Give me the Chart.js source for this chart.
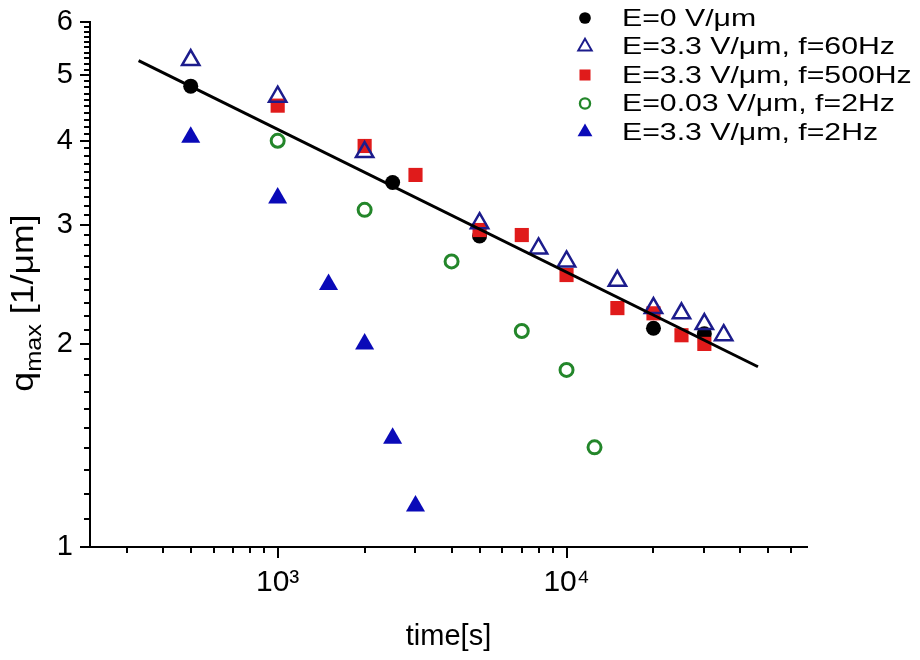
<!DOCTYPE html>
<html>
<head>
<meta charset="utf-8">
<script src="https://cdn.jsdelivr.net/npm/chart.js@4.4.1/dist/chart.umd.min.js"></script>
<style>
  html, body { margin: 0; padding: 0; background: #ffffff; }
  #wrap { width: 920px; height: 660px; }
</style>
</head>
<body>
<div id="wrap"><canvas id="chart1" width="920" height="660"></canvas></div>
<script>
// values: time [s] and q_max [1/um]
const e0Time = [500, 2500, 5000, 20000, 30000];
const e0Q = [4.82, 3.47, 2.89, 2.11, 2.07];

const f60Time = [500, 1000, 2000, 5000, 8000, 10000, 15000, 20000, 25000, 30000, 35000];
const f60Q = [5.27, 4.65, 3.85, 3.02, 2.77, 2.65, 2.48, 2.26, 2.22, 2.14, 2.06];

const f500Time = [1000, 2000, 3000, 5000, 7000, 10000, 15000, 20000, 25000, 30000];
const f500Q = [4.51, 3.93, 3.56, 2.95, 2.90, 2.53, 2.26, 2.22, 2.06, 2.00];

const lowTime = [1000, 2000, 4000, 7000, 10000, 12500];
const lowQ = [4.00, 3.16, 2.65, 2.09, 1.83, 1.405];

const f2Time = [500, 1000, 1500, 2000, 2500, 3000];
const f2Q = [4.05, 3.29, 2.45, 2.00, 1.45, 1.15];

// end points of the fitted power law line
const fitTime = [330, 46000];
const fitQ = [5.26, 1.85];

const seriesNames = [
  'E=0 V/\u03bcm',
  'E=3.3 V/\u03bcm, f=60Hz',
  'E=3.3 V/\u03bcm, f=500Hz',
  'E=0.03 V/\u03bcm, f=2Hz',
  'E=3.3 V/\u03bcm, f=2Hz'
];

// tick marks
const xTickValues = [300, 400, 500, 600, 700, 800, 900, 1000,
  2000, 3000, 4000, 5000, 6000, 7000, 8000, 9000, 10000,
  20000, 30000, 40000, 50000, 60000];
const xTickLabels = { 1000: '10\u00b3', 10000: '10\u2074' };
const yMajorTicks = [1, 2, 3, 4, 5, 6];

const FONT = "'Liberation Sans', Arial, sans-serif";

function toPoints(xs, ys) {
  return xs.map((x, i) => ({ x: x, y: ys[i] }));
}

function yTickValues() {
  const out = [];
  for (let i = 0; i < yMajorTicks.length - 1; i++) {
    for (let k = 0; k < 10; k++) {
      out.push(Math.round((yMajorTicks[i] + k * 0.1) * 10) / 10);
    }
  }
  out.push(yMajorTicks[yMajorTicks.length - 1]);
  return out;
}

// marker styles, shared by data and legend
const markers = [
  { style: 'circle', radius: 7.5, fill: '#000000', stroke: '#000000', width: 0 },
  { style: 'triangle', radius: 10, fill: 'rgba(0,0,0,0)', stroke: '#1c1c8c', width: 2.5 },
  { style: 'rect', radius: 10, fill: '#e01b1b', stroke: '#e01b1b', width: 0 },
  { style: 'circle', radius: 6.5, fill: 'rgba(0,0,0,0)', stroke: '#23862a', width: 3 },
  { style: 'triangle', radius: 11, fill: '#0a0ab8', stroke: '#0a0ab8', width: 0 }
];

function drawMarker(ctx, m, x, y, scale) {
  const r = m.radius * scale;
  ctx.save();
  ctx.fillStyle = m.fill;
  ctx.strokeStyle = m.stroke;
  ctx.lineWidth = m.width * scale;
  ctx.beginPath();
  if (m.style === 'circle') {
    ctx.arc(x, y, r, 0, Math.PI * 2);
  } else if (m.style === 'rect') {
    const s = r * Math.SQRT1_2;
    ctx.rect(x - s, y - s, 2 * s, 2 * s);
  } else {
    for (let k = 0; k < 3; k++) {
      const a = k * 2 * Math.PI / 3;
      const px = x + Math.sin(a) * r, py = y - Math.cos(a) * r;
      if (k === 0) ctx.moveTo(px, py); else ctx.lineTo(px, py);
    }
    ctx.closePath();
  }
  ctx.fill();
  if (m.width > 0) ctx.stroke();
  ctx.restore();
}

// ticks (long ones at labelled values), y title with subscript, and legend
const decorPlugin = {
  id: 'decor',
  afterDraw(chart) {
    const ctx = chart.ctx;
    const xs = chart.scales.x, ys = chart.scales.y;
    const area = chart.chartArea;
    ctx.save();
    ctx.strokeStyle = '#000000';
    ctx.lineWidth = 2;
    ctx.beginPath();
    xs.ticks.forEach(t => {
      const px = Math.round(xs.getPixelForValue(t.value));
      const len = xTickLabels[t.value] ? 11 : 6;
      ctx.moveTo(px, area.bottom);
      ctx.lineTo(px, area.bottom + len);
    });
    ys.ticks.forEach(t => {
      const py = Math.round(ys.getPixelForValue(t.value));
      const len = yMajorTicks.includes(t.value) ? 10 : 6;
      ctx.moveTo(area.left - len, py);
      ctx.lineTo(area.left, py);
    });
    ctx.stroke();

    // y axis title: q_max [1/um]
    ctx.fillStyle = '#000000';
    ctx.textBaseline = 'alphabetic';
    ctx.textAlign = 'left';
    const big = '31px ' + FONT, small = '22px ' + FONT;
    ctx.font = big;
    const wq = ctx.measureText('q').width;
    const wrest = ctx.measureText(' [1/\u03bcm]').width;
    ctx.font = small;
    const wsub = ctx.measureText('max').width;
    const total = wq + wsub + wrest;
    ctx.translate(33, 303);
    ctx.rotate(-Math.PI / 2);
    ctx.scale(1.15, 1);
    let x0 = -total / 2;
    ctx.font = big;
    ctx.fillText('q', x0, 0);
    ctx.font = small;
    ctx.fillText('max', x0 + wq, 8);
    ctx.font = big;
    ctx.fillText(' [1/\u03bcm]', x0 + wq + wsub, 0);
    ctx.restore();

    // legend, text is a little wider than normal in the source
    ctx.save();
    const lx = area.right - 222;
    const tx = area.right - 185;
    ctx.font = '24px ' + FONT;
    ctx.fillStyle = '#000000';
    ctx.textBaseline = 'middle';
    seriesNames.forEach((name, i) => {
      const ly = 18 + i * 28.5;
      drawMarker(ctx, markers[i], lx, ly, 0.78);
      ctx.save();
      ctx.translate(tx, ly + 1);
      ctx.scale(1.26, 1);
      ctx.fillText(name, 0, 0);
      ctx.restore();
    });
    ctx.restore();
  }
};

function scatterSet(label, xs, ys, m, order) {
  return {
    type: 'scatter',
    label: label,
    data: toPoints(xs, ys),
    pointStyle: m.style,
    pointRadius: m.radius,
    pointHoverRadius: m.radius,
    pointBackgroundColor: m.fill,
    pointBorderColor: m.stroke,
    pointBorderWidth: m.width,
    order: order
  };
}

const ctx = document.getElementById('chart1').getContext('2d');
const chart1 = new Chart(ctx, {
  type: 'scatter',
  data: {
    datasets: [
      {
        type: 'line',
        label: 'fit',
        data: toPoints(fitTime, fitQ),
        borderColor: '#000000',
        borderWidth: 3,
        pointRadius: 0,
        fill: false,
        order: 0
      },
      scatterSet(seriesNames[1], f60Time, f60Q, markers[1], 1),
      scatterSet(seriesNames[2], f500Time, f500Q, markers[2], 2),
      scatterSet(seriesNames[0], e0Time, e0Q, markers[0], 3),
      scatterSet(seriesNames[3], lowTime, lowQ, markers[3], 4),
      scatterSet(seriesNames[4], f2Time, f2Q, markers[4], 5)
    ]
  },
  options: {
    responsive: false,
    animation: false,
    layout: { padding: { top: 22, right: 113, left: 0, bottom: 0 } },
    scales: {
      x: {
        type: 'logarithmic',
        min: 224,
        max: 68000,
        afterFit: scale => {
          scale.height = 113;
          scale.paddingLeft = 0;
          scale.paddingRight = 0;
        },
        afterBuildTicks: scale => {
          scale.ticks = xTickValues.map(v => ({ value: v }));
        },
        grid: { display: false, drawTicks: false },
        border: { display: true, color: '#000000', width: 2 },
        ticks: {
          autoSkip: false,
          maxRotation: 0,
          minRotation: 0,
          padding: 18,
          color: '#000000',
          font: { family: FONT, size: 30 },
          callback: value => xTickLabels[value] || ''
        },
        title: {
          display: true,
          text: 'time[s]',
          color: '#000000',
          font: { family: FONT, size: 29 },
          padding: { top: 0, bottom: 6 }
        }
      },
      y: {
        type: 'logarithmic',
        min: 1,
        max: 6,
        afterFit: scale => {
          scale.width = 90;
          scale.paddingTop = 0;
          scale.paddingBottom = 0;
        },
        afterBuildTicks: scale => {
          scale.ticks = yTickValues().map(v => ({ value: v }));
        },
        grid: { display: false, drawTicks: false },
        border: { display: true, color: '#000000', width: 2 },
        ticks: {
          autoSkip: false,
          padding: 17,
          color: '#000000',
          font: { family: FONT, size: 29 },
          callback: value => (yMajorTicks.includes(value) ? String(value) : '')
        }
      }
    },
    plugins: {
      legend: { display: false },
      tooltip: { enabled: false }
    }
  },
  plugins: [decorPlugin]
});
</script>
</body>
</html>
